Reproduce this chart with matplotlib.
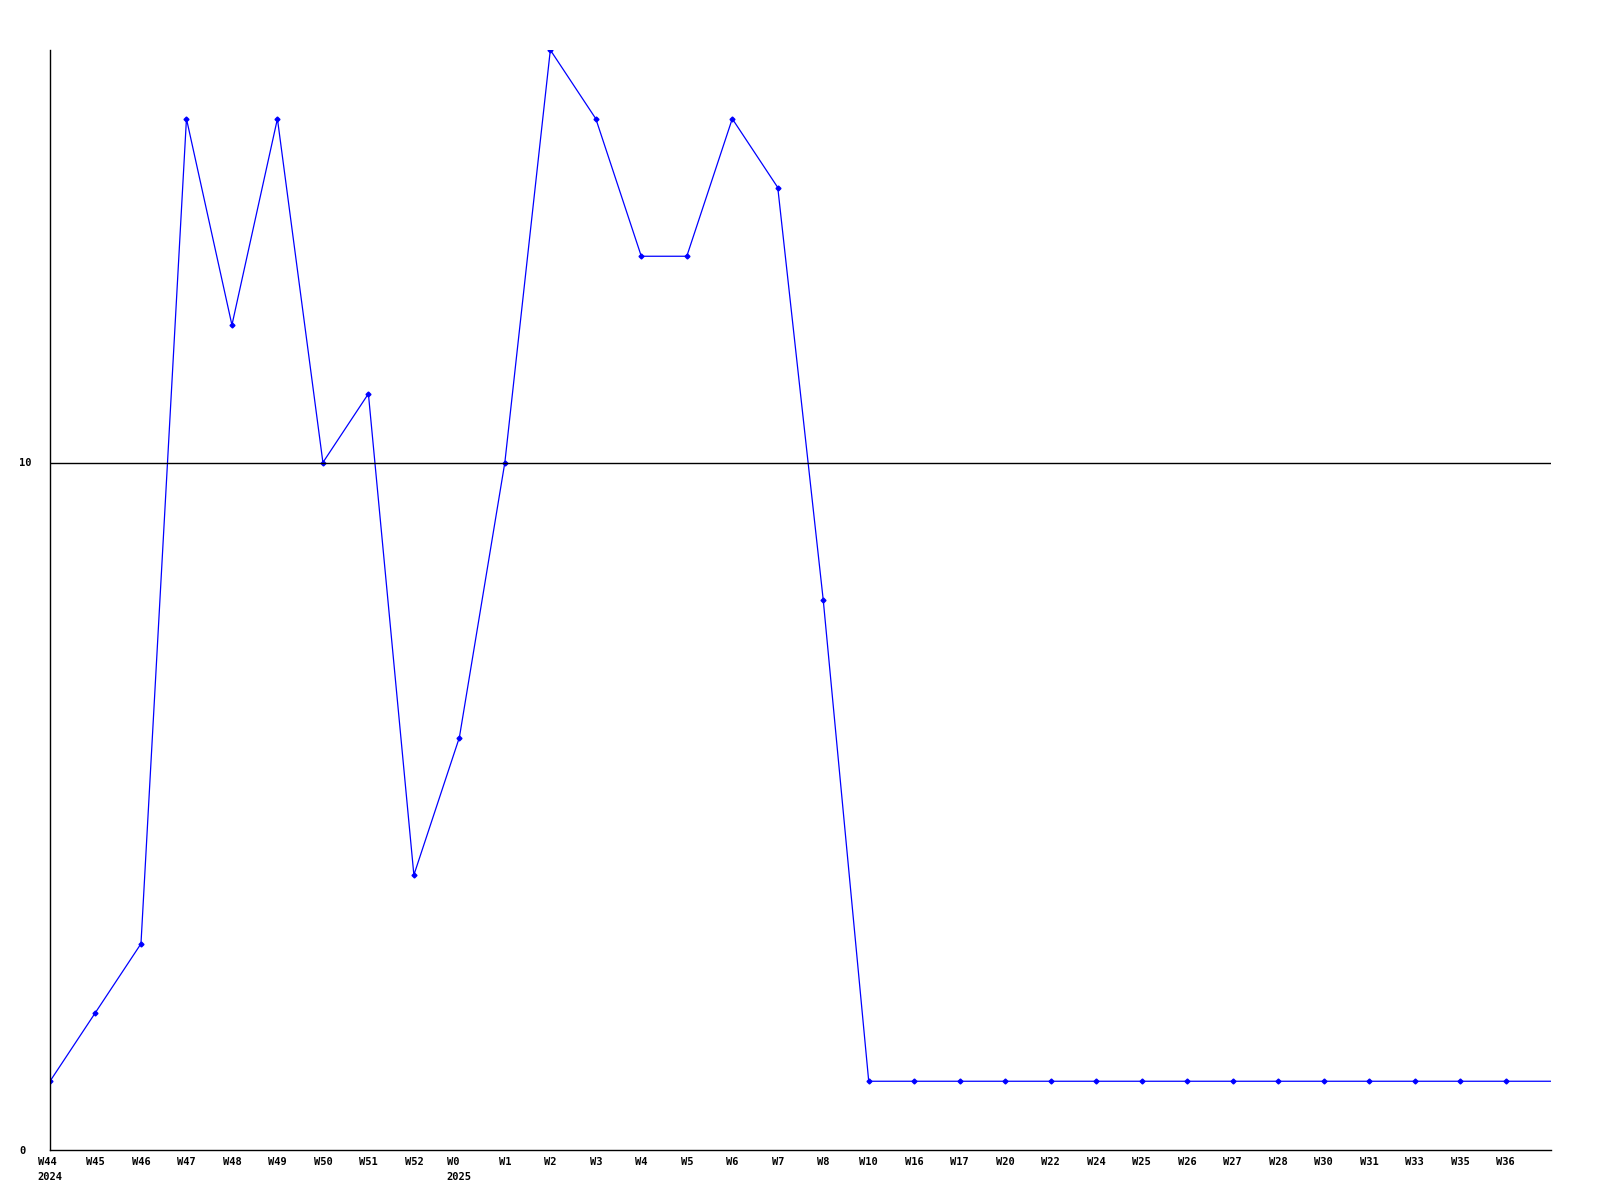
import matplotlib
matplotlib.use("Agg")
import matplotlib.pyplot as plt

weeks = ["W44", "W45", "W46", "W47", "W48", "W49", "W50", "W51", "W52", "W0",
         "W1", "W2", "W3", "W4", "W5", "W6", "W7", "W8", "W10", "W16",
         "W17", "W20", "W22", "W24", "W25", "W26", "W27", "W28", "W30", "W31",
         "W33", "W35", "W36"]
years = {"W44": "2024", "W0": "2025"}
values = [1, 2, 3, 15, 12, 15, 10, 11, 4, 6,
          10, 16, 15, 13, 13, 15, 14, 8, 1, 1,
          1, 1, 1, 1, 1, 1, 1, 1, 1, 1,
          1, 1, 1]
# the line runs on to the right edge at the last value
tail_value = values[-1]

labels = [w + ("\n" + years[w] if w in years else "") for w in weeks]

fig = plt.figure(figsize=(16, 12), dpi=100)
ax = fig.add_axes([50 / 1600, 1 - 1150 / 1200, 1501 / 1600, 1100 / 1200])

x = list(range(len(values)))
ax.plot(x + [len(values)], values + [tail_value], color="#0000ff", lw=0.9,
        marker="D", ms=2.5, markevery=list(range(len(values))))
ax.axhline(10, color="black", lw=1)

ax.set_xlim(0, len(values))
ax.set_ylim(0, 16)
ax.set_xticks(x)
ax.set_xticklabels(labels, family="DejaVu Sans Mono", weight="bold",
                   fontsize=7.5, linespacing=1.6, va="top")
ax.set_yticks([0, 10])
ax.set_yticklabels(["0", "10"], family="DejaVu Sans Mono", weight="bold",
                   fontsize=7.5, ha="left")
ax.tick_params(length=0)
ax.tick_params(axis="x", pad=5)
ax.tick_params(axis="y", pad=22)
for lab in ax.get_xticklabels():
    lab.set_multialignment("left")
for s in ["top", "right"]:
    ax.spines[s].set_visible(False)
ax.spines["left"].set_linewidth(1)
ax.spines["bottom"].set_linewidth(1)

plt.savefig("out.png", dpi=100)
